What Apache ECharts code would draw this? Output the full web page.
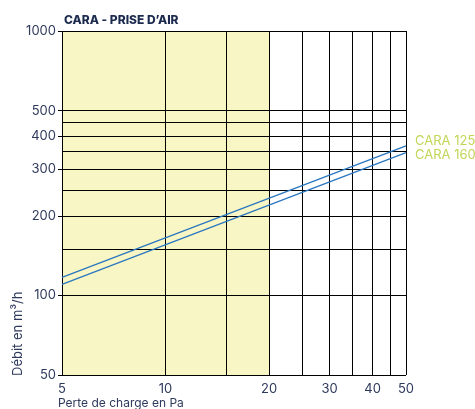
<!DOCTYPE html>
<html>
<head>
<meta charset="utf-8">
<script src="https://cdn.jsdelivr.net/npm/echarts@6/dist/echarts.min.js"></script>
<style>html,body{margin:0;padding:0;background:#fff}#c{width:475px;height:409px}</style>
</head>
<body>
<div id="c"></div>
<script>
// Data
const xTickLabels = [5, 10, 20, 30, 40, 50];
const yTickLabels = [50, 100, 200, 300, 400, 500, 1000];
const xGridValues = [5, 10, 15, 20, 25, 30, 35, 40, 45, 50];
const yGridValues = [50, 100, 150, 200, 250, 300, 350, 400, 450, 500, 1000];
const zoneRange = [5, 20];
const pressure = [5, 50];
const cara125 = [117, 368];
const cara160 = [110, 347];

const textColor = '#2e3a5c';
const font = 'Inter';

const chart = echarts.init(document.getElementById('c'), null, {renderer: 'canvas'});

function toPairs(xs, ys) { return xs.map((x, i) => [x, ys[i]]); }

const option = {
  animation: false,
  grid: {left: 62, right: 69, top: 31, bottom: 34},
  xAxis: {
    type: 'log', logBase: 10, min: 5, max: 50,
    axisLine: {show: false},
    axisTick: {show: false},
    splitLine: {show: false},
    minorTick: {show: false},
    axisLabel: {customValues: xTickLabels, formatter: v => String(v), color: textColor, fontFamily: font, fontSize: 13, margin: 8}
  },
  yAxis: {
    type: 'log', logBase: 10, min: 50, max: 1000,
    axisLine: {show: false},
    axisTick: {show: true, customValues: yTickLabels, length: 4, lineStyle: {color: '#000'}},
    splitLine: {show: false},
    axisLabel: {customValues: yTickLabels, formatter: v => String(v), color: textColor, fontFamily: font, fontSize: 13, margin: 6}
  },
  title: {
    text: 'CARA - PRISE D\u2019AIR', left: 59, top: 9,
    textStyle: {fontFamily: font, fontWeight: 800, fontSize: 12, color: '#1c2a4e'}
  },
  graphic: [
    {type: 'text', left: 58, top: 397, style: {text: 'Perte de charge en Pa', fontFamily: font, fontSize: 12, fill: textColor}},
    {type: 'text', rotation: Math.PI / 2, x: 12, y: 376, style: {text: 'Débit en m³/h', fontFamily: font, fontSize: 13, fill: textColor}}
  ],
  series: [
    {
      type: 'line', name: 'zone', silent: true, data: [], z: 0,
      markArea: {silent: true, itemStyle: {color: '#f8f6c4'}, data: [[{xAxis: zoneRange[0]}, {xAxis: zoneRange[1]}]]}
    },
    {
      type: 'line', name: 'grid', silent: true, data: [], z: 2,
      markLine: {
        silent: true, symbol: 'none', label: {show: false},
        lineStyle: {color: '#000', width: 1, type: 'solid'},
        data: xGridValues.map(v => ({xAxis: v})).concat(yGridValues.map(v => ({yAxis: v})))
      }
    },
    {
      type: 'line', name: 'CARA 125', data: toPairs(pressure, cara125), showSymbol: false, z: 5,
      lineStyle: {color: '#2a77c0', width: 1.3},
      endLabel: {show: true, formatter: '{a}', color: '#c3d658', fontFamily: font, fontSize: 13, offset: [1, -5]}
    },
    {
      type: 'line', name: 'CARA 160', data: toPairs(pressure, cara160), showSymbol: false, z: 5,
      lineStyle: {color: '#2a77c0', width: 1.3},
      endLabel: {show: true, formatter: '{a}', color: '#c3d658', fontFamily: font, fontSize: 13, offset: [1, 3]}
    }
  ]
};
chart.setOption(option);
</script>
</body>
</html>
